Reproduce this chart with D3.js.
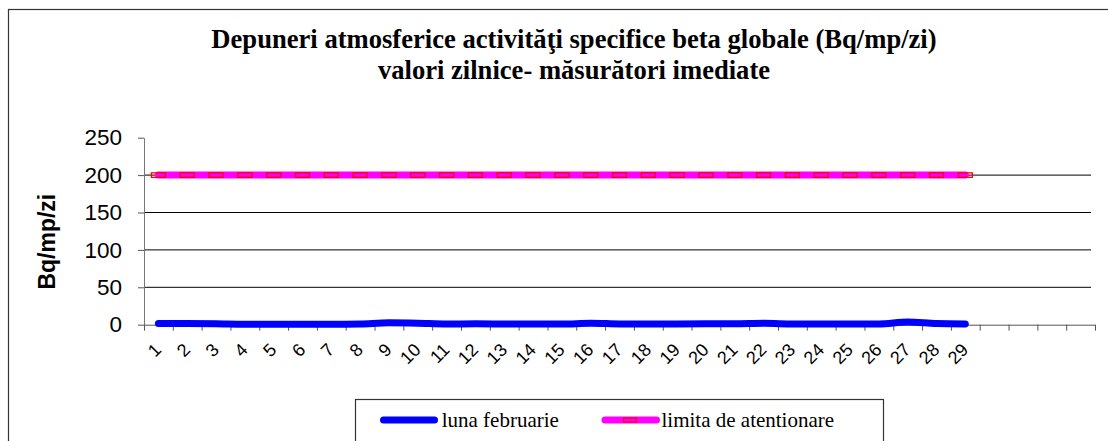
<!DOCTYPE html>
<html><head><meta charset="utf-8">
<script src="https://cdn.jsdelivr.net/npm/d3@7"></script>
<style>body{margin:0;background:#fff;overflow:hidden} svg{display:block}</style>
</head><body>
<svg id="c" width="1108" height="441"></svg>
<script>
const days = ["1","2","3","4","5","6","7","8","9","10","11","12","13","14","15","16","17","18","19","20","21","22","23","24","25","26","27","28","29","","","",""];
const februarie = [1.5,1.5,1.2,0.5,0.5,0.6,0.6,1.0,2.5,2.0,1.0,1.2,1.0,0.8,0.8,2.0,1.0,0.8,1.0,1.2,1.2,1.8,1.0,0.8,1.0,1.0,3.5,1.5,1.0];
const limita = [200,200,200,200,200,200,200,200,200,200,200,200,200,200,200,200,200,200,200,200,200,200,200,200,200,200,200,200,200];
const yTicks = [0,50,100,150,200,250];
const gridValues = [50,100,150,200];
const seriesNames = ["luna februarie","limita de atentionare"];
const titleLines = ["Depuneri atmosferice activităţi specifice beta globale (Bq/mp/zi)","valori zilnice- măsurători imediate"];
const yLabel = "Bq/mp/zi";

const SERIF = "'Liberation Serif','Times New Roman',serif";
const SANS = "'Liberation Sans',Arial,sans-serif";
const svg = d3.select("#c");

// outer chart border
svg.append("rect").attr("x",8.5).attr("y",9.5).attr("width",1200).attr("height",600)
  .attr("fill","#fff").attr("stroke","#333").attr("stroke-width",1.2);

// title
svg.append("text").attr("x",574).attr("y",48).attr("text-anchor","middle")
  .attr("font-family",SERIF).attr("font-weight","bold").attr("font-size",26.6).text(titleLines[0]);
svg.append("text").attr("x",574).attr("y",79).attr("text-anchor","middle")
  .attr("font-family",SERIF).attr("font-weight","bold").attr("font-size",26.6).text(titleLines[1]);

const x0 = 144, x1 = 1095;
const x = d3.scaleBand().domain(d3.range(days.length)).range([x0,x1]).padding(0);
const xEdge = d3.scaleLinear().domain([0,days.length]).range([x0,x1]);
const cx = i => x(i) + x.bandwidth()/2;
const y = d3.scaleLinear().domain([0,250]).range([324.7,137.7]);

// gridlines
svg.append("g").selectAll("line").data(gridValues).join("line")
  .attr("x1",x0).attr("x2",1091).attr("y1",d=>y(d)).attr("y2",d=>y(d))
  .attr("stroke","#000").attr("stroke-width",1);

// y axis
const ya = svg.append("g").attr("transform",`translate(${x0},0)`)
  .call(d3.axisLeft(y).tickValues(yTicks).tickSize(6).tickSizeOuter(0).tickPadding(16));
ya.select(".domain").attr("stroke","#777");
ya.selectAll(".tick line").attr("stroke","#555");
ya.selectAll(".tick text").attr("font-family",SANS).attr("font-size",22.5).attr("fill","#000");

// x axis (tick marks at category boundaries)
const xa = svg.append("g").attr("transform",`translate(0,${y(0)})`)
  .call(d3.axisBottom(xEdge).tickValues(d3.range(days.length+1)).tickSize(6).tickSizeOuter(0).tickFormat(""));
xa.select(".domain").attr("stroke","#555");
xa.selectAll(".tick line").attr("stroke","#555");

// x labels
svg.append("g").selectAll("text").data(days).join("text")
  .attr("transform",(d,i)=>`translate(${cx(i)+4},351) rotate(-45)`)
  .attr("text-anchor","end").attr("font-family",SANS).attr("font-size",18).text(d=>d);

// y label
svg.append("text").attr("transform","translate(55,241.7) rotate(-90)").attr("text-anchor","middle")
  .attr("font-family",SANS).attr("font-weight","bold").attr("font-size",23).text(yLabel);

// limit line
const line = d3.line().x((d,i)=>cx(i)).y(d=>y(d));
svg.append("path").datum(limita).attr("d",line).attr("fill","none")
  .attr("stroke","#FF00FF").attr("stroke-width",7).attr("stroke-linecap","round").attr("stroke-linejoin","round");
svg.append("g").selectAll("rect").data(limita).join("rect")
  .attr("x",(d,i)=>cx(i)-7).attr("y",d=>y(d)-2.25).attr("width",14).attr("height",4.5)
  .attr("fill","none").attr("stroke","#FF0000").attr("stroke-width",1.3);

// february line
const sline = d3.line().x((d,i)=>cx(i)).y(d=>y(d)).curve(d3.curveMonotoneX);
svg.append("path").datum(februarie).attr("d",sline).attr("fill","none")
  .attr("stroke","#0000FF").attr("stroke-width",7).attr("stroke-linecap","round").attr("stroke-linejoin","round");

// legend
const lg = svg.append("g");
lg.append("rect").attr("x",355.5).attr("y",399.5).attr("width",528).attr("height",70)
  .attr("fill","#fff").attr("stroke","#333").attr("stroke-width",1.2);
lg.append("line").attr("x1",383.5).attr("x2",434.5).attr("y1",420).attr("y2",420)
  .attr("stroke","#0000FF").attr("stroke-width",7).attr("stroke-linecap","round");
lg.append("text").attr("x",441.7).attr("y",427).attr("font-family",SERIF).attr("font-size",21).text(seriesNames[0]);
lg.append("line").attr("x1",605).attr("x2",656.5).attr("y1",420).attr("y2",420)
  .attr("stroke","#FF00FF").attr("stroke-width",7).attr("stroke-linecap","round");
lg.append("rect").attr("x",623.5).attr("y",418).attr("width",13).attr("height",4)
  .attr("fill","none").attr("stroke","#FF0000").attr("stroke-width",1.2);
lg.append("text").attr("x",661.5).attr("y",427).attr("font-family",SERIF).attr("font-size",21).text(seriesNames[1]);
</script>
</body></html>
